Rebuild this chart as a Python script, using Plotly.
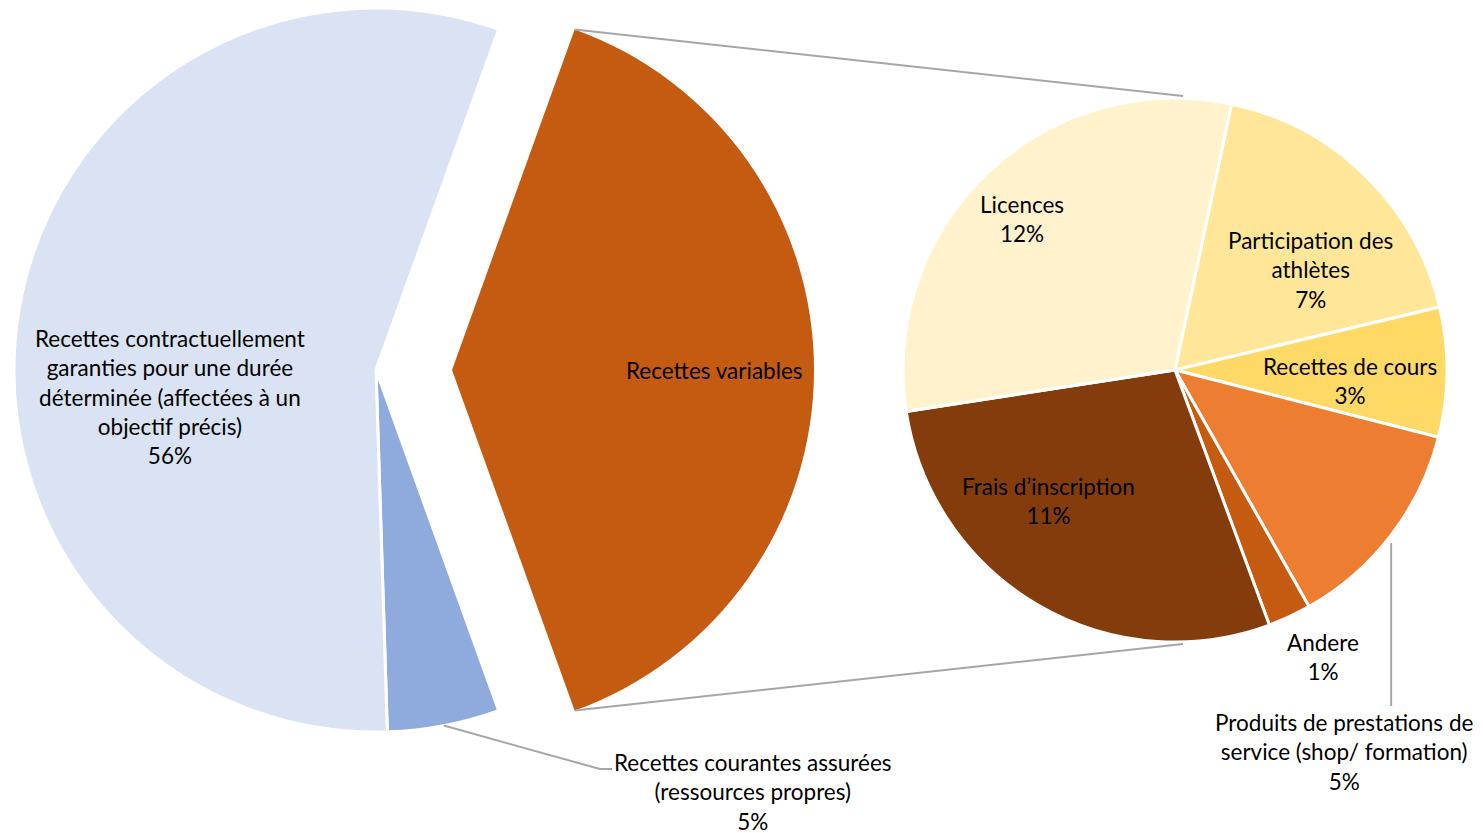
import math
import plotly.graph_objects as go

# ---------------- data ----------------
main_labels = ["Recettes variables",
               "Recettes courantes assurées (ressources propres)",
               "Recettes contractuellement garanties pour une durée déterminée (affectées à un objectif précis)"]
main_values = [39, 5, 56]
main_colors = ["#C55A11", "#8FAADC", "#DAE3F3"]

sub_labels = ["Participation des athlètes", "Recettes de cours",
              "Produits de prestations de service (shop/ formation)",
              "Andere", "Frais d’inscription", "Licences"]
sub_values = [7, 3, 5, 1, 11, 12]
sub_colors = ["#FFE699", "#FFD966", "#ED7D31", "#C55A11", "#843C0C", "#FFF2CC"]

# ---------------- geometry (screen pixels) ----------------
VW, VH = 1483, 833          # browser window
OFF = 8                     # page body margin
W, H = VW - OFF, VH - OFF   # figure size
CX1, CY1, R1 = 376, 370, 362     # main pie
PULL_PX = 76                     # explosion of the "variables" slice
CX2, CY2, R2 = 1175, 370, 272    # secondary pie
ROT2 = 12

total1 = sum(main_values)
ROT1 = 90 - 360 * main_values[0] / total1 / 2   # variables slice centred at 3 o'clock


def px(x, y):
    return (x - OFF) / W, 1 - (y - OFF) / H


def dom(cx, cy, r):
    x0, y1 = px(cx - r, cy - r)
    x1, y0 = px(cx + r, cy + r)
    clamp = lambda v: min(1.0, max(0.0, v))
    return dict(x=[clamp(x0), clamp(x1)], y=[clamp(y0), clamp(y1)])


def pt(cx, cy, r, ang):
    a = math.radians(ang)
    return cx + r * math.sin(a), cy - r * math.cos(a)


TRANSP = "rgba(0,0,0,0)"
fig = go.Figure()

# main pie without the exploded slice
fig.add_trace(go.Pie(
    labels=main_labels, values=main_values, sort=False, direction="clockwise",
    rotation=ROT1, domain=dom(CX1, CY1, R1), textinfo="none",
    marker=dict(colors=[TRANSP, main_colors[1], main_colors[2]],
                line=dict(color="white", width=[0, 3, 3])),
    hoverinfo="label+percent", showlegend=False))

# exploded slice
fig.add_trace(go.Pie(
    labels=main_labels, values=main_values, sort=False, direction="clockwise",
    rotation=ROT1, domain=dom(CX1 + PULL_PX, CY1, R1), textinfo="none",
    marker=dict(colors=[main_colors[0], TRANSP, TRANSP],
                line=dict(color="white", width=[0, 0, 0])),
    hoverinfo="label+percent", showlegend=False))

# secondary pie
fig.add_trace(go.Pie(
    labels=sub_labels, values=sub_values, sort=False, direction="clockwise",
    rotation=ROT2, domain=dom(CX2, CY2, R2), textinfo="none",
    marker=dict(colors=sub_colors, line=dict(color="white", width=3)),
    hoverinfo="label+value", showlegend=False))

# ---------------- connector / leader lines ----------------
shapes = []
GREY = "#A6A6A6"
a_start = ROT1
a_end = ROT1 + 360 * main_values[0] / total1
p_top = pt(CX1 + PULL_PX, CY1, R1, a_start)
p_bot = pt(CX1 + PULL_PX, CY1, R1, a_end)
for p, q in [(p_top, (CX2 + 8, CY2 - R2 - 2)), (p_bot, (CX2 + 8, CY2 + R2 + 2))]:
    x0, y0 = px(*p)
    x1, y1 = px(*q)
    shapes.append(dict(type="line", xref="paper", yref="paper", x0=x0, y0=y0, x1=x1, y1=y1,
                       line=dict(color=GREY, width=2)))

# leader for "Recettes courantes"
mid_c = a_end + 360 * main_values[1] / total1 / 2
lc = pt(CX1, CY1, R1, mid_c)
path_pts = [lc, (600, 769), (612, 769)]
path = "M " + " L ".join(f"{px(*p)[0]},{px(*p)[1]}" for p in path_pts)
shapes.append(dict(type="path", xref="paper", yref="paper", path=path,
                   line=dict(color=GREY, width=2)))

# leader for "Produits de prestations"
total2 = sum(sub_values)
mid_p = ROT2 + 360 * (sub_values[0] + sub_values[1] + sub_values[2] / 2) / total2
lp = pt(CX2, CY2, R2, mid_p)
x0, y0 = px(lp[0], lp[1] + 8)
x1, y1 = px(lp[0], 706)
shapes.append(dict(type="line", xref="paper", yref="paper", x0=x0, y0=y0, x1=x0, y1=y1,
                   line=dict(color=GREY, width=2)))

# ---------------- labels ----------------
label_pos = [
    ("Recettes contractuellement<br>garanties pour une durée<br>déterminée (affectées à un<br>objectif précis)<br>56%", 170, 397),
    ("Recettes variables", 714, 371),
    ("Recettes courantes assurées<br>(ressources propres)<br>5%", 753, 792),
    ("Licences<br>12%", 1022, 219),
    ("Participation des<br>athlètes<br>7%", 1310, 270),
    ("Recettes de cours<br>3%", 1350, 381),
    ("Frais d’inscription<br>11%", 1048, 501),
    ("Andere<br>1%", 1323, 657),
    ("Produits de prestations de<br>service (shop/ formation)<br>5%", 1344, 752),
]
annotations = []
for txt, x, y in label_pos:
    ax, ay = px(x, y)
    annotations.append(dict(text=txt, x=ax, y=ay, xref="paper", yref="paper",
                            xanchor="center", yanchor="middle", showarrow=False,
                            align="center", font=dict(family="Lato", size=22.5, color="#000000")))

fig.update_layout(width=W, height=H, margin=dict(l=0, r=0, t=0, b=0),
                  paper_bgcolor="white", plot_bgcolor="white",
                  shapes=shapes, annotations=annotations, showlegend=False)

fig.write_html("out.html")
